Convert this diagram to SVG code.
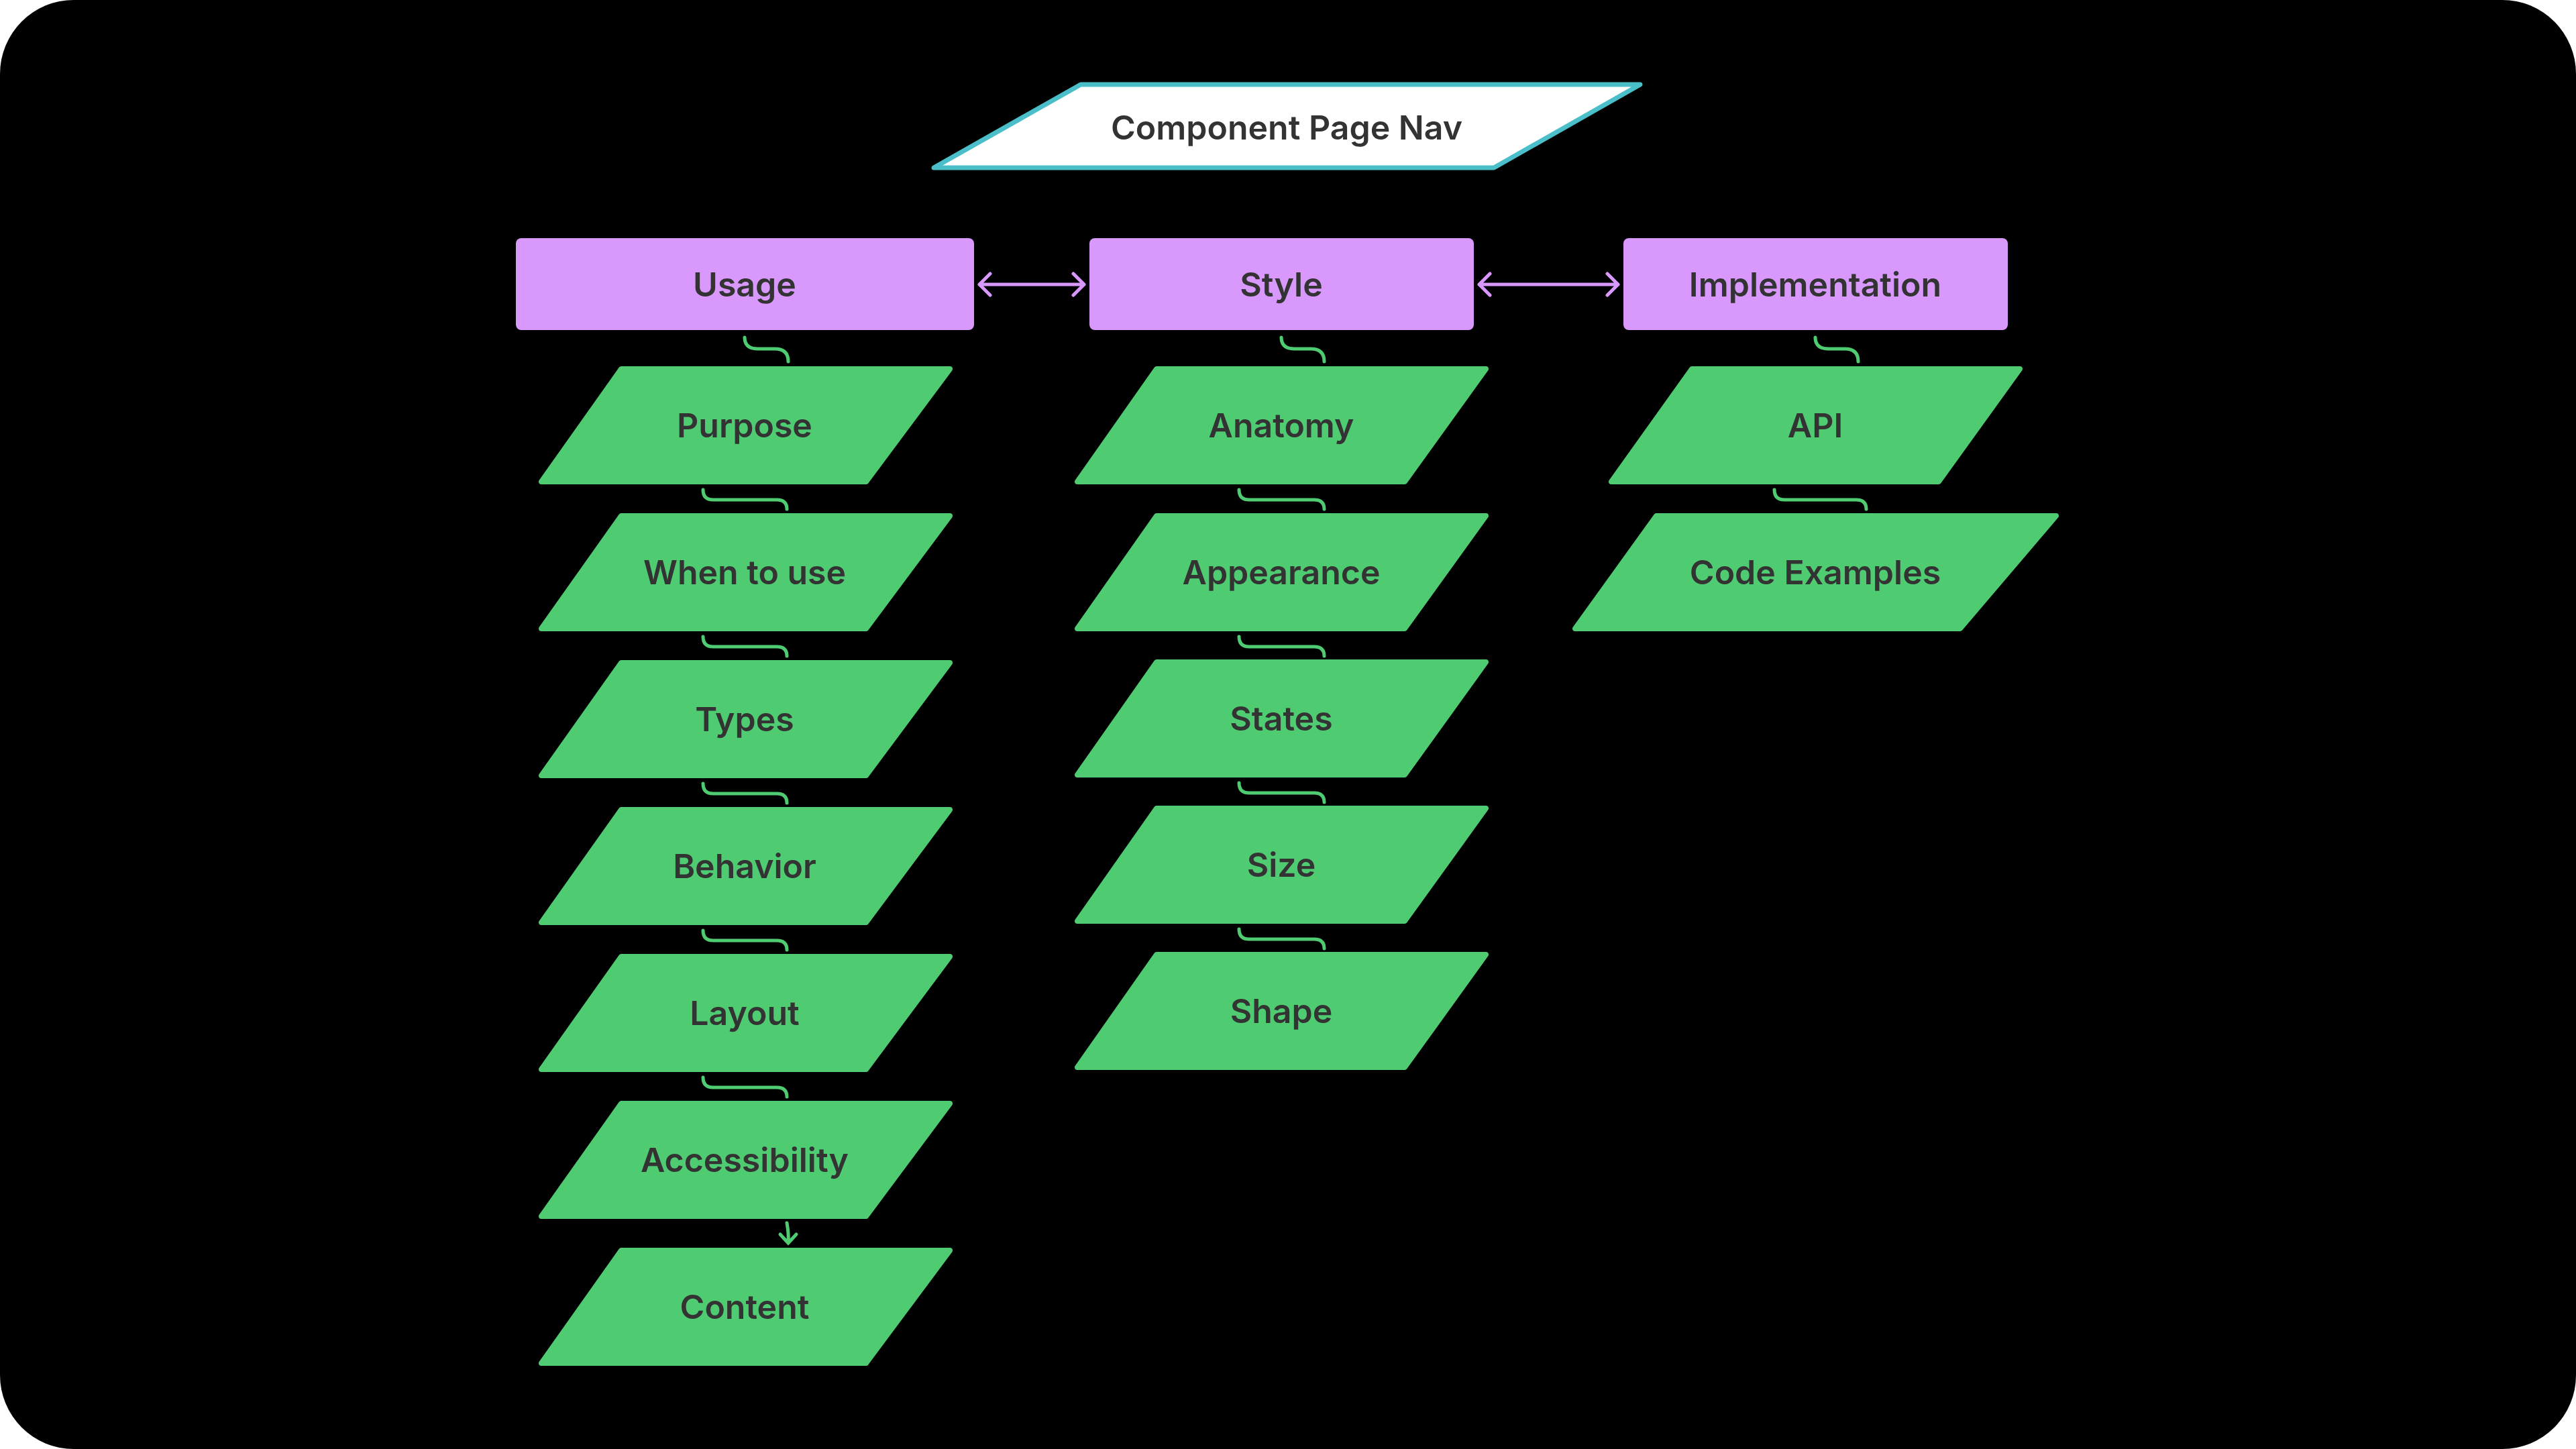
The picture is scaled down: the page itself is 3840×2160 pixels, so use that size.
<svg xmlns="http://www.w3.org/2000/svg" width="3840" height="2160" viewBox="0 0 3840 2160">
<style>
.t{font-family:Inter,"Liberation Sans",sans-serif;font-weight:600;font-size:50px;fill:#333;text-anchor:middle;dominant-baseline:central}
.p{fill:#D898FC}
.g{fill:#4FCB72;stroke:#4FCB72;stroke-width:8;stroke-linejoin:round}
.c{fill:none;stroke:#4FCB72;stroke-width:5;stroke-linecap:round}
.a{fill:none;stroke:#D898FC;stroke-width:5;stroke-linecap:round;stroke-linejoin:round}
</style>
<rect width="3840" height="2160" fill="#fff"/>
<rect width="3840" height="2160" rx="110" fill="#000"/>
<g id="title">
<polygon points="1611,126 2445,126 2227,250 1392,250" fill="#fff" stroke="#4BBFC9" stroke-width="7" stroke-linejoin="round"/>
<text class="t" x="1918" y="190">Component Page Nav</text>
</g>
<g id="usage"><rect class="p" x="769" y="355" width="683" height="137" rx="8"/><text class="t" x="1110" y="424">Usage</text></g>
<g id="style"><rect class="p" x="1624" y="355" width="573" height="137" rx="8"/><text class="t" x="1910" y="424">Style</text></g>
<g id="implementation"><rect class="p" x="2420" y="355" width="573" height="137" rx="8"/><text class="t" x="2706" y="424">Implementation</text></g>

<g id="purpose" transform="translate(0,0)"><polygon class="g" points="926,550 1416,550 1291,718 807,718"/><text class="t" x="1110" y="634">Purpose</text></g>
<g id="whentouse" transform="translate(0,219)"><polygon class="g" points="926,550 1416,550 1291,718 807,718"/><text class="t" x="1110" y="634">When to use</text></g>
<g id="types" transform="translate(0,438)"><polygon class="g" points="926,550 1416,550 1291,718 807,718"/><text class="t" x="1110" y="634">Types</text></g>
<g id="behavior" transform="translate(0,657)"><polygon class="g" points="926,550 1416,550 1291,718 807,718"/><text class="t" x="1110" y="634">Behavior</text></g>
<g id="layout" transform="translate(0,876)"><polygon class="g" points="926,550 1416,550 1291,718 807,718"/><text class="t" x="1110" y="634">Layout</text></g>
<g id="accessibility" transform="translate(0,1095)"><polygon class="g" points="926,550 1416,550 1291,718 807,718"/><text class="t" x="1110" y="634">Accessibility</text></g>
<g id="content" transform="translate(0,1314)"><polygon class="g" points="926,550 1416,550 1291,718 807,718"/><text class="t" x="1110" y="634">Content</text></g>

<g id="anatomy" transform="translate(0,0)"><polygon class="g" points="1724,550 2215,550 2094,718 1606,718"/><text class="t" x="1910" y="634">Anatomy</text></g>
<g id="appearance" transform="translate(0,219)"><polygon class="g" points="1724,550 2215,550 2094,718 1606,718"/><text class="t" x="1910" y="634">Appearance</text></g>
<g id="states" transform="translate(0,437)"><polygon class="g" points="1724,550 2215,550 2094,718 1606,718"/><text class="t" x="1910" y="634">States</text></g>
<g id="size" transform="translate(0,655)"><polygon class="g" points="1724,550 2215,550 2094,718 1606,718"/><text class="t" x="1910" y="634">Size</text></g>
<g id="shape" transform="translate(0,873)"><polygon class="g" points="1724,550 2215,550 2094,718 1606,718"/><text class="t" x="1910" y="634">Shape</text></g>

<g id="api"><polygon class="g" points="2522,550 3011,550 2890,718 2402,718"/><text class="t" x="2706" y="634">API</text></g>
<g id="codeexamples"><polygon class="g" points="2469,769 3065,769 2922,937 2348,937"/><text class="t" x="2706" y="853">Code Examples</text></g>

<g id="connectors">
<path class="a" d="M1460,424 H1616 M1476,408 L1460,424 L1476,440 M1600,408 L1616,424 L1600,440"/>
<path class="a" d="M2205,424 H2412 M2221,408 L2205,424 L2221,440 M2396,408 L2412,424 L2396,440"/>
<path class="c" d="M1110,503 Q1110,520 1130,520 H1155 Q1175,520 1175,539"/>
<path class="c" d="M1910,503 Q1910,520 1930,520 H1954 Q1974,520 1974,539"/>
<path class="c" d="M2706,503 Q2706,520 2726,520 H2750 Q2770,520 2770,539"/>
<g id="ucon">
<path class="c" d="M1048,730 Q1048,745 1063,745 H1158 Q1173,745 1173,759"/>
<path class="c" transform="translate(0,219)" d="M1048,730 Q1048,745 1063,745 H1158 Q1173,745 1173,759"/>
<path class="c" transform="translate(0,438)" d="M1048,730 Q1048,745 1063,745 H1158 Q1173,745 1173,759"/>
<path class="c" transform="translate(0,657)" d="M1048,730 Q1048,745 1063,745 H1158 Q1173,745 1173,759"/>
<path class="c" transform="translate(0,876)" d="M1048,730 Q1048,745 1063,745 H1158 Q1173,745 1173,759"/>
<path class="c" d="M1173,1823 Q1176,1840 1175,1853 M1163,1840 L1175,1853 L1187,1840"/>
</g>
<path class="c" d="M1847,730 Q1847,745 1862,745 H1959 Q1974,745 1974,759"/>
<path class="c" transform="translate(0,219)" d="M1847,730 Q1847,745 1862,745 H1959 Q1974,745 1974,759"/>
<path class="c" transform="translate(0,437)" d="M1847,730 Q1847,745 1862,745 H1959 Q1974,745 1974,759"/>
<path class="c" transform="translate(0,655)" d="M1847,730 Q1847,745 1862,745 H1959 Q1974,745 1974,759"/>
<path class="c" d="M2645,730 Q2645,745 2660,745 H2767 Q2782,745 2782,759"/>
</g>
</svg>
